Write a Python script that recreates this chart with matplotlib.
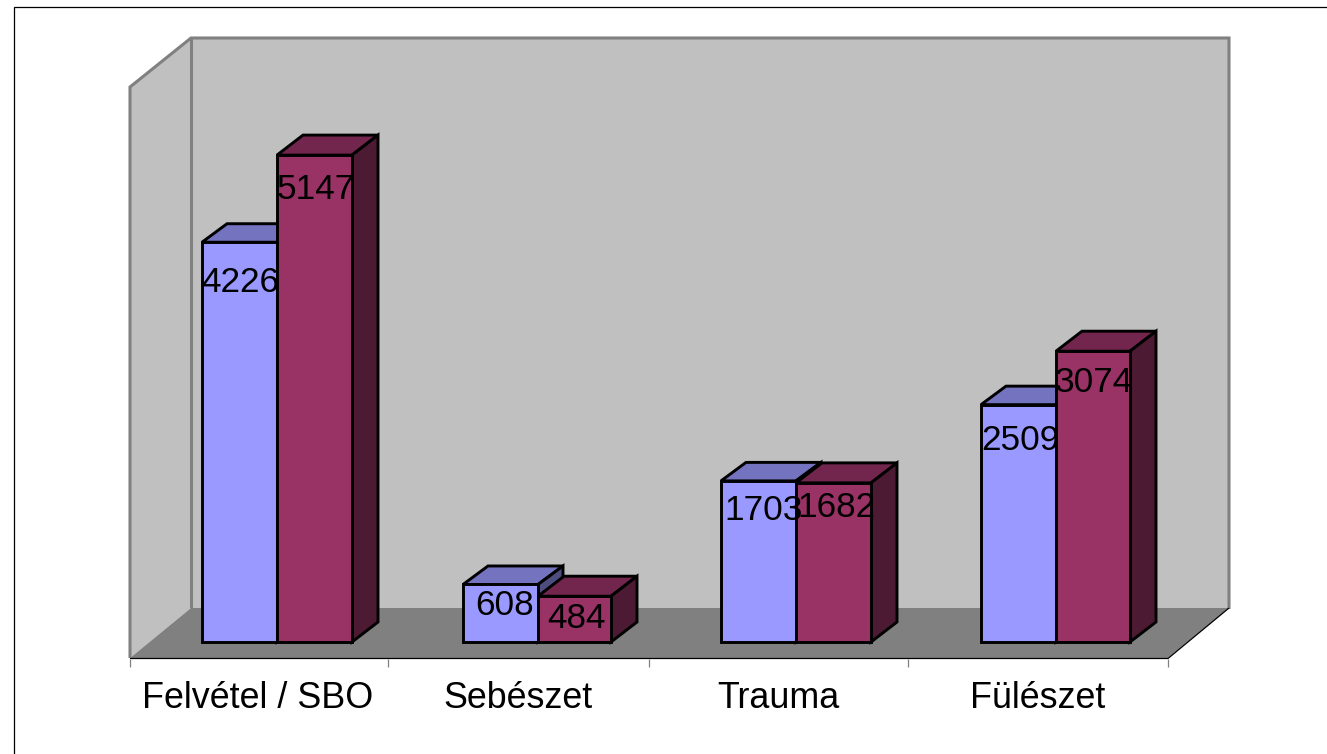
import numpy as np
import matplotlib
matplotlib.use("Agg")
import matplotlib.pyplot as plt
from matplotlib.patches import Polygon

categories = ["Felvétel / SBO", "Sebészet", "Trauma", "Fülészet"]
series_a = [4226, 608, 1703, 2509]
series_b = [5147, 484, 1682, 3074]

plt.rcParams['font.family'] = ['Liberation Sans', 'DejaVu Sans']

W, H = 1327, 754
X0, XSTEP = 277.0, 260.0      # pixel of first group centre, group spacing
Y0, YSCALE = 642.0, 0.0946    # pixel of value 0, pixels per unit
BAR = 75.0 / XSTEP


def dx(p):
    return p / XSTEP


def dy(p):
    return p / YSCALE


def P(x, y):
    """pixel position -> data position"""
    return ((x - X0) / XSTEP, (Y0 - y) / YSCALE)


fig = plt.figure(figsize=(W / 100, H / 100), dpi=100, facecolor='white')
ax = fig.add_axes([0, 0, 1, 1])
ax.set_xlim(P(0, 0)[0], P(W, 0)[0])
ax.set_ylim(P(0, H)[1], P(0, 0)[1])
ax.axis('off')

GRAY = '#808080'
WALL = '#C0C0C0'
LW = 2.1


def poly(pts, fc, ec='none', lw=0, z=1):
    ax.add_patch(Polygon([P(*p) for p in pts], closed=True, facecolor=fc,
                         edgecolor=ec, linewidth=lw, joinstyle='miter', zorder=z))


def line(pts, c, lw, z=2):
    xy = np.array([P(*p) for p in pts])
    ax.plot(xy[:, 0], xy[:, 1], color=c, lw=lw, zorder=z, solid_capstyle='butt',
            solid_joinstyle='miter')


# outer frame (top and left only are in the picture)
line([(13.5, H), (13.5, 6.5), (W, 6.5)], 'black', 0.9)

# walls and floor
poly([(130, 87), (191, 38), (191, 608), (130, 658)], WALL)
poly([(191, 38), (1229, 38), (1229, 608), (191, 608)], WALL)
poly([(130, 658), (191, 608), (1229, 608), (1168, 658)], GRAY)
line([(130, 658), (130, 87), (191, 38), (1229, 38), (1229, 609)], GRAY, 2.2)
line([(191, 38), (191, 608)], GRAY, 2.2)
line([(130, 658.5), (1168, 658.5), (1229, 608)], 'black', 0.9)
for t in [130, 388, 649, 908, 1168]:
    line([(t, 659), (t, 667)], GRAY, 0.9)


def draw_bar(left, width, value, col, top, side, ddx, ddy, z):
    right = left + width
    ax.bar(left, value, width, align='edge', color=col, edgecolor='black',
           linewidth=LW, zorder=z + 0.2)
    ax.add_patch(Polygon([(left, value), (left + dx(ddx), value + dy(ddy)),
                          (right + dx(ddx), value + dy(ddy)), (right, value)],
                         facecolor=top, edgecolor='black', linewidth=LW,
                         joinstyle='miter', zorder=z))
    ax.add_patch(Polygon([(right, 0), (right + dx(ddx), dy(ddy)),
                          (right + dx(ddx), value + dy(ddy)), (right, value)],
                         facecolor=side, edgecolor='black', linewidth=LW,
                         joinstyle='miter', zorder=z))


group_shift = [0, 1, -1, -1]
width_b = [75, 73, 75, 74]
label_dy = [[40, 21, 30, 36], [34, 22, 25, 31]]
label_dx = [[1, 4, 5, 2], [1, 2, 3, 1]]
for i, (a, b) in enumerate(zip(series_a, series_b)):
    base = 5 + 2 * i
    c = i + dx(group_shift[i])
    wb = dx(width_b[i])
    draw_bar(c - BAR, BAR, a, '#9999FF', '#7373BF', '#4D4D80', 25, 18.5, base)
    draw_bar(c, wb, b, '#993366', '#73264D', '#4D1A33', 26, 20, base + 1)
    ax.text(c - BAR / 2 + dx(label_dx[0][i]), a - dy(label_dy[0][i]), str(a),
            ha='center', va='center', fontsize=25.4, color='black', zorder=30)
    ax.text(c + wb / 2 + dx(label_dx[1][i]), b - dy(label_dy[1][i]), str(b),
            ha='center', va='center', fontsize=25.4, color='black', zorder=30)
    ax.text(i - dx(19), P(0, 699)[1], categories[i], ha='center', va='center',
            fontsize=25.8, color='black', zorder=30)

fig.savefig('out.png', dpi=100, facecolor='white')
